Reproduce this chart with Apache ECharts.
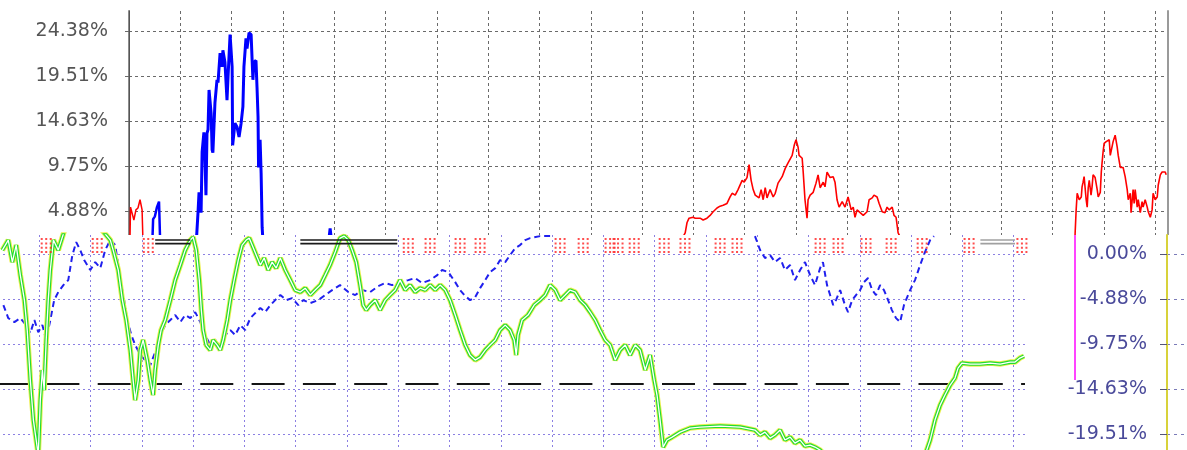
<!DOCTYPE html>
<html><head><meta charset="utf-8">
<script src="https://cdn.jsdelivr.net/npm/echarts@6/dist/echarts.min.js"></script>
<style>html,body{margin:0;padding:0;background:#fff}#c{width:1187px;height:450px}</style>
</head><body><div id="c"></div>
<script>
// ---------- data ----------
const tickStep = 4.8765;
const topTickLabels = ['0.00%','4.88%','9.75%','14.63%','19.51%','24.38%'];
const lowTickLabels = ['0.00%','-4.88%','-9.75%','-14.63%','-19.51%','-24.38%'];

// top panel: [day, % return]
const redStart = [[0.2,-1],[0.6,5.3],[1.2,5.5],[1.9,3.9],[2.7,5.0],[3.5,5.2],[4.3,6.1],[5.1,5.0],[5.7,-1]];
const blueSmall = [[8.8,-1],[9.4,4.0],[10.1,4.3],[10.9,5.3],[11.7,5.9],[12.1,2.0],[12.3,-1]];
const blueBig = [[25.7,-1],[26.5,2.8],[26.9,4.7],[27.3,6.9],[28.1,4.7],[28.5,11.3],[28.8,11.5],[29.2,13.4],[29.6,10.7],[30.0,6.6],[30.4,13.3],[30.8,13.7],[31.2,18.0],[32.0,15.5],[32.4,11.5],[32.7,11.2],[33.5,16.6],[34.3,19.1],[34.7,18.8],[35.5,22.0],[36.3,20.5],[36.6,22.3],[37.4,21.0],[38.2,16.9],[38.6,19.4],[39.4,24.0],[40.2,20.5],[40.4,12.0],[40.9,11.8],[41.3,14.4],[42.1,14.0],[42.9,12.9],[43.7,14.4],[44.4,16.2],[44.8,20.5],[45.6,23.6],[46.0,22.5],[46.8,24.2],[47.6,24.0],[48.0,21.2],[48.3,19.1],[48.7,21.0],[49.5,21.2],[49.9,18.3],[50.3,15.1],[50.5,9.6],[51.1,12.6],[51.5,9.0],[51.9,3.1],[52.2,1.7],[53.0,-1]];
const blueBlip = [[77.8,1.5],[78.4,3.0],[79.0,1.5]];
const redMid = [[215.6,-1],[216.0,2.1],[216.8,2.5],[217.5,3.6],[218.3,4.1],[219.9,4.2],[220.7,4.1],[221.4,3.9],[222.6,4.1],[223.8,3.9],[225.3,4.1],[226.5,4.4],[227.7,4.8],[229.2,5.2],[230.4,5.4],[231.6,5.5],[233.1,5.7],[234.3,6.4],[235.1,6.8],[236.3,6.6],[237.4,7.2],[239.0,8.2],[239.8,8.0],[240.9,8.5],[241.7,9.9],[242.5,8.2],[243.3,7.2],[244.1,6.6],[244.8,6.8],[245.6,6.3],[246.4,7.2],[247.2,6.1],[248.0,7.4],[248.7,6.3],[249.9,7.2],[251.1,6.4],[251.9,6.8],[253.0,7.9],[254.6,8.6],[255.8,9.5],[256.9,10.1],[258.5,10.9],[259.3,12.0],[260.0,12.6],[260.8,11.8],[261.2,10.9],[262.4,10.6],[262.8,9.1],[263.5,6.1],[264.3,4.1],[264.7,6.1],[265.5,6.6],[266.7,6.9],[267.8,7.9],[268.6,8.8],[269.4,7.4],[270.6,8.0],[271.3,7.5],[272.1,9.1],[273.3,8.5],[274.5,8.6],[275.2,8.0],[276.0,6.1],[276.8,5.3],[278.0,5.9],[279.1,5.3],[280.3,6.4],[281.5,5.0],[282.3,5.3],[283.0,4.2],[283.8,5.0],[285.0,4.7],[286.2,4.4],[287.7,4.8],[288.5,6.1],[289.7,6.3],[290.4,6.6],[291.6,6.4],[292.4,5.7],[293.6,4.8],[294.7,4.7],[295.5,5.3],[296.3,5.0],[297.5,5.3],[298.2,4.4],[299.0,4.2],[299.8,2.5],[300.6,2.1],[301.4,-1]];
const redEnd = [[368.4,-1],[368.8,2.5],[369.2,5.0],[369.6,6.8],[370.4,6.1],[371.2,6.4],[371.5,7.5],[371.9,8.0],[372.3,8.6],[373.1,6.1],[373.5,5.3],[373.9,7.4],[374.3,8.2],[375.0,6.6],[375.4,7.5],[375.8,8.8],[376.6,8.5],[377.4,7.2],[377.8,6.4],[378.6,6.9],[379.0,9.1],[379.3,10.1],[379.7,11.3],[380.1,12.2],[380.9,12.4],[381.3,12.6],[382.1,12.6],[382.5,10.9],[383.2,10.7],[383.6,12.4],[384.4,13.1],[385.2,11.8],[385.6,10.9],[386.4,9.6],[387.1,9.5],[387.5,9.6],[388.3,8.6],[389.1,7.2],[389.5,6.1],[390.3,6.8],[390.6,4.7],[391.4,7.2],[391.8,5.7],[392.2,7.2],[393.0,5.3],[393.4,6.1],[394.2,4.7],[394.9,5.9],[395.3,5.3],[396.1,6.1],[396.9,5.3],[397.3,4.8],[398.1,4.2],[398.8,5.0],[399.2,6.8],[400.0,6.1],[400.8,6.4],[401.2,7.7],[402.0,8.8],[402.7,9.1],[403.1,9.0],[403.9,9.1],[404.3,8.8]];

// lower strip: [day, % return]
const greenLow = [[5.6,0.43],[7.9,1.52],[9.5,-0.87],[11.0,0.98],[12.6,-2.28],[14.2,-4.99],[15.3,-8.24],[16.5,-13.66],[17.7,-17.99],[18.8,-20.16],[19.6,-21.79],[20.4,-15.83],[21.2,-12.57],[21.9,-14.74],[22.7,-9.32],[23.5,-4.99],[24.3,-1.73],[25.5,1.52],[26.2,1.73],[27.4,0.43],[30.1,2.82],[43.8,2.82],[47.7,1.52],[48.8,0.43],[50.8,-1.73],[52.4,-4.99],[53.9,-7.15],[55.5,-10.41],[56.6,-13.66],[57.4,-15.83],[58.6,-13.66],[59.4,-10.41],[60.5,-9.32],[62.1,-11.49],[63.3,-13.66],[64.4,-15.28],[65.2,-12.57],[66.4,-9.86],[67.5,-8.24],[69.1,-7.15],[71.1,-4.99],[73.0,-2.82],[75.0,-1.19],[76.9,0.43],[78.9,1.52],[80.0,1.84],[81.2,0.43],[82.4,-2.82],[83.2,-6.07],[83.9,-8.24],[85.1,-9.86],[86.7,-10.41],[87.8,-9.32],[89.4,-9.86],[90.6,-10.41],[91.7,-9.32],[93.3,-7.15],[94.5,-4.99],[96.0,-2.82],[97.6,-0.65],[99.1,0.98],[100.7,1.52],[101.9,1.73],[103.0,0.98],[104.6,-0.11],[106.2,-1.19],[107.7,-0.43],[109.3,-1.73],[110.8,-0.87],[112.4,-1.52],[114.0,-0.43],[115.9,-1.73],[117.9,-2.82],[119.8,-3.90],[121.8,-4.12],[123.7,-3.69],[125.7,-4.44],[127.6,-3.90],[129.6,-3.36],[131.5,-2.28],[133.4,-1.19],[135.4,0.22],[137.3,1.73],[138.9,1.95],[140.5,1.52],[142.0,0.43],[143.6,-0.87],[145.1,-3.36],[146.3,-5.53],[147.5,-6.07],[149.0,-5.53],[151.0,-4.99],[152.9,-6.07],[154.9,-4.99],[156.8,-4.44],[158.8,-3.90],[160.7,-2.82],[162.7,-3.90],[164.6,-3.36],[166.6,-4.12],[168.5,-3.69],[170.5,-3.90],[172.4,-3.36],[174.4,-3.90],[176.3,-3.36],[178.3,-3.90],[180.2,-4.99],[182.2,-6.61],[184.1,-8.24],[186.1,-9.86],[188.0,-10.95],[190.0,-11.49],[191.9,-11.17],[193.9,-10.41],[195.8,-9.86],[197.8,-9.32],[199.7,-8.24],[201.7,-7.70],[203.6,-8.24],[205.2,-9.32],[206.0,-10.95],[206.7,-8.78],[208.3,-7.15],[210.6,-6.61],[213.0,-5.53],[215.3,-4.99],[217.3,-4.44],[219.2,-3.36],[221.2,-3.90],[223.1,-4.99],[225.1,-4.44],[227.0,-3.90],[229.0,-4.12],[230.9,-4.99],[232.9,-5.53],[234.8,-6.29],[236.8,-7.15],[238.7,-8.24],[240.7,-9.32],[242.6,-9.86],[244.6,-11.49],[246.5,-10.41],[248.5,-9.86],[250.4,-10.95],[252.4,-9.86],[254.3,-10.41],[256.3,-12.57],[258.2,-10.95],[259.8,-13.66],[260.9,-15.28],[262.1,-17.99],[263.3,-20.92],[264.8,-20.16],[266.8,-19.84],[269.9,-19.30],[273.8,-18.86],[277.7,-18.75],[285.5,-18.64],[293.3,-18.75],[299.1,-19.08],[301.1,-19.62],[303.0,-19.30],[305.0,-19.95],[306.9,-19.62],[308.9,-19.08],[310.8,-20.16],[312.8,-19.84],[314.7,-20.49],[316.7,-20.16],[318.6,-20.81],[320.6,-20.70],[322.5,-20.92],[324.5,-21.25],[326.4,-21.79],[330.3,-22.33],[365.4,-21.79],[367.4,-20.16],[369.3,-17.99],[371.3,-16.37],[373.2,-15.28],[375.2,-14.20],[377.1,-13.44],[378.3,-12.36],[379.8,-11.82],[383.0,-11.92],[386.9,-11.92],[390.8,-11.82],[394.7,-11.92],[398.6,-11.71],[400.5,-11.71],[402.4,-11.27],[404.0,-11.06]];
const blueLow = [[6.0,-5.53],[7.9,-6.94],[10.3,-7.37],[12.6,-6.94],[14.9,-7.70],[16.5,-8.56],[18.1,-7.15],[19.6,-8.46],[21.2,-7.70],[22.7,-9.32],[24.3,-7.15],[25.8,-4.99],[27.4,-4.12],[29.4,-3.36],[31.3,-2.82],[32.9,-0.11],[34.4,1.30],[36.0,0.43],[37.5,-0.65],[39.9,-1.73],[41.8,-0.87],[43.8,-1.52],[45.7,0.43],[47.7,1.52],[49.6,0.98],[50.8,-1.19],[52.0,-3.36],[53.1,-4.99],[54.3,-7.15],[55.9,-8.78],[57.4,-9.86],[59.4,-10.95],[61.3,-11.49],[63.3,-12.03],[65.2,-10.62],[67.2,-8.78],[69.1,-7.70],[71.1,-7.15],[73.0,-6.61],[75.0,-7.37],[76.9,-6.61],[78.9,-6.94],[80.8,-6.29],[82.8,-7.37],[84.7,-8.78],[86.7,-9.86],[88.6,-9.32],[90.6,-9.86],[92.5,-8.78],[94.5,-8.24],[96.4,-8.78],[98.4,-7.70],[100.3,-8.24],[102.3,-6.94],[104.2,-6.40],[106.2,-5.85],[108.1,-6.29],[110.1,-5.53],[112.0,-4.99],[114.0,-4.44],[116.3,-4.99],[118.6,-4.77],[121.0,-5.53],[122.9,-4.99],[125.7,-5.31],[128.8,-4.99],[131.5,-4.44],[134.2,-3.90],[137.3,-3.36],[140.5,-4.12],[143.2,-4.44],[145.9,-3.90],[149.0,-4.12],[152.2,-3.47],[154.9,-3.14],[157.6,-3.36],[160.7,-3.04],[163.9,-2.82],[166.6,-2.60],[169.3,-3.14],[172.4,-2.82],[175.2,-2.28],[177.1,-1.73],[179.5,-1.95],[182.2,-3.04],[184.1,-3.90],[186.1,-4.55],[188.0,-4.99],[190.0,-4.66],[191.9,-3.69],[193.9,-2.82],[195.8,-1.95],[197.8,-1.52],[199.7,-0.65],[201.7,-0.87],[203.6,-0.11],[205.6,0.65],[207.5,0.98],[209.5,1.52],[211.4,1.73],[215.3,1.95],[219.2,1.95],[225,null],[299.1,1.95],[301.1,0.43],[303.0,-0.43],[305.0,-0.11],[306.9,-0.87],[308.9,-0.43],[310.8,-1.73],[312.8,-1.19],[314.7,-2.82],[316.7,-1.73],[318.6,-0.87],[320.6,-2.28],[322.5,-3.36],[324.5,-1.52],[325.6,-0.87],[327.2,-3.36],[328.4,-4.44],[329.6,-5.53],[330.7,-4.99],[332.3,-3.90],[334.2,-5.53],[335.4,-6.29],[337.0,-4.99],[338.5,-4.44],[340.1,-3.90],[341.6,-3.04],[343.2,-2.60],[344.8,-3.90],[346.3,-4.44],[347.9,-3.36],[349.4,-3.90],[351.0,-4.99],[352.5,-6.07],[354.1,-6.94],[355.7,-7.37],[357.2,-5.53],[359.6,-3.90],[361.5,-2.82],[363.5,-1.19],[365.4,0.22],[367.4,1.52],[368.9,1.95]];
const refLevel = [[0,-14.09],[404.4,-14.09]];
const redMarkDays = [22.7,42.6,62.5,163.9,172.4,184.1,191.9,223.1,232.1,242.6,245.7,252.0,263.7,271.8,285.5,292.1,324.5,331.5,342.4,352.2,364.3,382.6,403.2];
const redMarkLevel = 0.92;
const darkPairHigh = [[65.2,1.52],[78.9,1.52],[80,null],[121.8,1.52],[159.6,1.52]];
const darkPairLow = [[65.2,1.14],[78.9,1.14],[80,null],[121.8,1.14],[159.6,1.14]];
const greyPairHigh = [[387.0,1.52],[400.5,1.52]];
const greyPairLow = [[387.0,1.14],[400.5,1.14]];

// ---------- chart ----------
const chart = echarts.init(document.getElementById('c'), null, {renderer:'canvas'});
const FONT = 'DejaVu Sans';
function topFmt(v){const i=Math.round(v/tickStep);return Math.abs(v-i*tickStep)<0.01?(topTickLabels[i]||''):'';}
function lowFmt(v){const i=Math.round(-v/tickStep);return Math.abs(-v-i*tickStep)<0.01?(lowTickLabels[i]||''):'';}
const topGrid = {lineStyle:{color:'#6a6a6a',type:[3,3],width:1}};
const lowGrid = {lineStyle:{color:'#8b7fe2',type:[2,3],width:1}};
const lineBase = {type:'line',showSymbol:false,symbol:'none',silent:true,animation:false};

const option = {
  animation:false,
  backgroundColor:'#ffffff',
  grid:[
    {left:129,top:11,width:1039,height:245,outerBoundsMode:'none',containLabel:false},
    {left:-12,top:235,width:1037,height:244,outerBoundsMode:'none',containLabel:false},
    {left:1167,top:235,width:20,height:244,outerBoundsMode:'none',containLabel:false}
  ],
  xAxis:[
    {gridIndex:0,type:'value',min:0,max:405,interval:20,axisLine:{show:false},axisTick:{show:false},axisLabel:{show:false},
     splitLine:Object.assign({show:true,showMinLine:false,showMaxLine:false},topGrid)},
    {gridIndex:0,type:'value',position:'top',min:0,max:405,axisLine:{show:true,lineStyle:{color:'#6a6a6a',width:1}},axisTick:{show:false},axisLabel:{show:false},splitLine:{show:false}},
    {gridIndex:1,type:'value',min:0,max:404.4,interval:20,z:105,axisLine:{show:false},axisTick:{show:false},axisLabel:{show:false},
     splitLine:Object.assign({show:true,showMaxLine:false},lowGrid)},
    {gridIndex:2,type:'value',min:0,max:1,show:false}
  ],
  yAxis:[
    {gridIndex:0,type:'value',min:0,max:26.56,interval:tickStep,offset:7,
     axisLine:{show:true,lineStyle:{color:'#8c8c8c',width:2}},
     axisTick:{show:true,length:4,lineStyle:{color:'#6a6a6a'}},
     axisLabel:{show:true,margin:14,formatter:topFmt,showMaxLabel:false,showMinLabel:false,color:'#555555',fontFamily:FONT,fontSize:19},
     splitLine:Object.assign({show:true,showMaxLine:false,showMinLine:false},topGrid)},
    {gridIndex:0,type:'value',min:0,max:26.56,axisLine:{show:true,lineStyle:{color:'#555555',width:1}},axisTick:{show:false},axisLabel:{show:false},splitLine:{show:false}},
    {gridIndex:0,type:'value',position:'right',min:0,max:26.56,axisLine:{show:true,lineStyle:{color:'#9a9a9a',width:2}},axisTick:{show:false},axisLabel:{show:false},splitLine:{show:false}},
    {gridIndex:1,type:'value',min:-5*tickStep,max:2.07,interval:tickStep,z:105,axisLine:{show:false},axisTick:{show:false},axisLabel:{show:false},
     splitLine:Object.assign({show:true,showMaxLine:false},lowGrid)},
    {gridIndex:2,type:'value',min:-5*tickStep,max:2.07,interval:tickStep,z:105,
     axisLine:{show:true,lineStyle:{color:'#d8d23a',width:2}},
     axisTick:{show:true,length:7,lineStyle:{color:'#555577'}},
     axisLabel:{show:true,margin:20,formatter:lowFmt,showMaxLabel:false,color:'#4a4a9a',fontFamily:FONT,fontSize:19,
       textShadowColor:'#e6df3c',textShadowOffsetX:-1.5,textShadowBlur:0},
     splitLine:{show:true,showMaxLine:false,lineStyle:{color:'#7a7ab8',type:[3,4],width:1}}}
  ],
  graphic:[
    {type:'rect',shape:{x:0,y:235,width:1187,height:215},style:{fill:'#ffffff'},z:100,silent:true},
    {type:'line',shape:{x1:1075,y1:235,x2:1075,y2:380},style:{stroke:'#ff44ff',lineWidth:2},z:120,silent:true}
  ],
  series:[
    Object.assign({},lineBase,{name:'redStart',xAxisIndex:0,yAxisIndex:0,data:redStart,lineStyle:{color:'#ff0000',width:1.5},z:3}),
    Object.assign({},lineBase,{name:'blueSmall',xAxisIndex:0,yAxisIndex:0,data:blueSmall,lineStyle:{color:'#0000ff',width:2.5},z:3}),
    Object.assign({},lineBase,{name:'blueBig',xAxisIndex:0,yAxisIndex:0,data:blueBig,lineStyle:{color:'#0000ff',width:3},z:3}),
    Object.assign({},lineBase,{name:'blueBlip',xAxisIndex:0,yAxisIndex:0,data:blueBlip,lineStyle:{color:'#0000ff',width:3},z:3}),
    Object.assign({},lineBase,{name:'redMid',xAxisIndex:0,yAxisIndex:0,data:redMid,lineStyle:{color:'#ff0000',width:1.6},z:3}),
    Object.assign({},lineBase,{name:'redEnd',xAxisIndex:0,yAxisIndex:0,data:redEnd,lineStyle:{color:'#ff0000',width:1.6},z:3}),

    Object.assign({},lineBase,{name:'ref',xAxisIndex:2,yAxisIndex:3,data:refLevel,z:108,
      lineStyle:{color:'#151515',width:2,type:[33,18.3],dashOffset:44.2}}),
    Object.assign({},lineBase,{name:'blueLow',xAxisIndex:2,yAxisIndex:3,data:blueLow,z:109,
      lineStyle:{color:'#2020ee',width:2,type:[6,4]}}),
    Object.assign({},lineBase,{name:'greenHalo',xAxisIndex:2,yAxisIndex:3,data:greenLow,z:110,lineStyle:{color:'#ecef52',width:5.5}}),
    Object.assign({},lineBase,{name:'greenMain',xAxisIndex:2,yAxisIndex:3,data:greenLow,z:111,lineStyle:{color:'#22dd33',width:3.6}}),
    Object.assign({},lineBase,{name:'greenCore',xAxisIndex:2,yAxisIndex:3,data:greenLow,z:112,lineStyle:{color:'#ffffff',width:1.3}}),
    Object.assign({},lineBase,{name:'darkHigh',xAxisIndex:2,yAxisIndex:3,data:darkPairHigh,z:113,lineStyle:{color:'#1a1a1a',width:1.6}}),
    Object.assign({},lineBase,{name:'darkLow',xAxisIndex:2,yAxisIndex:3,data:darkPairLow,z:113,lineStyle:{color:'#1a1a1a',width:1.6}}),
    Object.assign({},lineBase,{name:'greyHigh',xAxisIndex:2,yAxisIndex:3,data:greyPairHigh,z:113,lineStyle:{color:'#a0a0a0',width:1.6}}),
    Object.assign({},lineBase,{name:'greyLow',xAxisIndex:2,yAxisIndex:3,data:greyPairLow,z:113,lineStyle:{color:'#a0a0a0',width:1.6}}),
    {type:'scatter',name:'redMarks',xAxisIndex:2,yAxisIndex:3,silent:true,z:114,animation:false,
      symbol:'path://M0 0h2v2H0zM4.5 0h2v2h-2zM9 0h2v2H9zM0 4.3h2v2H0zM4.5 4.3h2v2h-2zM9 4.3h2v2H9zM0 8.6h2v2H0zM4.5 8.6h2v2h-2zM9 8.6h2v2H9zM0 12.9h2v2H0zM4.5 12.9h2v2h-2zM9 12.9h2v2H9z',
      symbolSize:[11,15],itemStyle:{color:'#ff2222'},
      data:redMarkDays.map(d=>[d,redMarkLevel])}
  ]
};
chart.setOption(option);
</script></body></html>
